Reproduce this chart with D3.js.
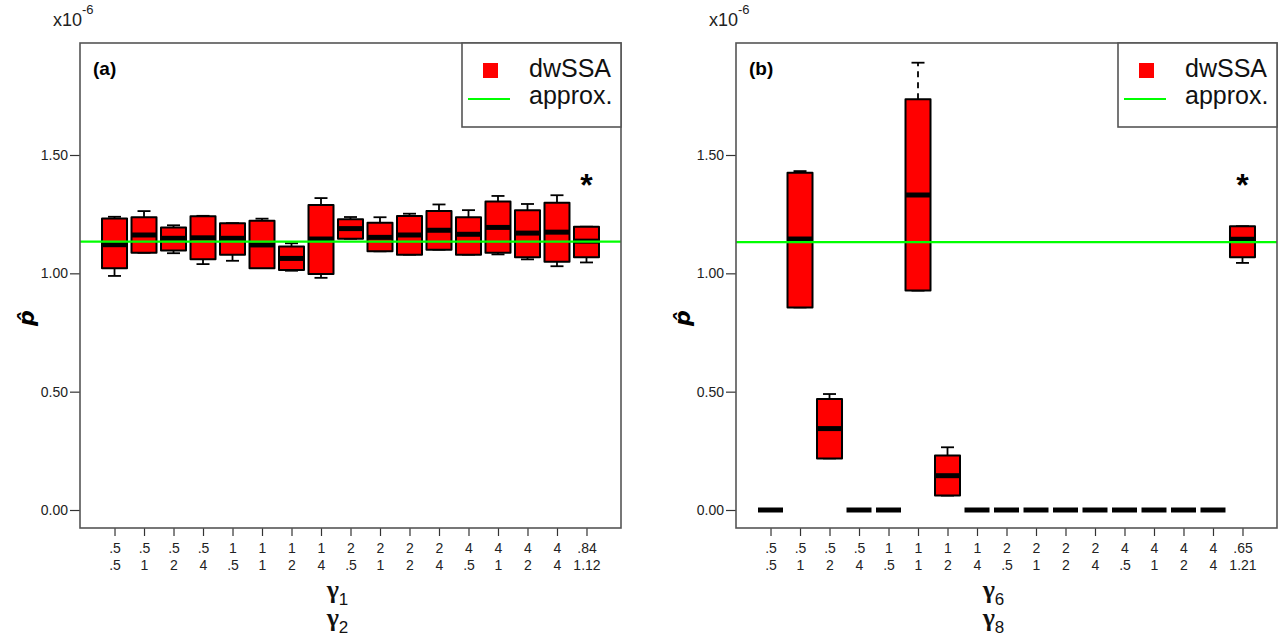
<!DOCTYPE html>
<html lang="en">
<head>
    <meta charset="UTF-8">
    <script src="https://d3js.org/d3.v7.min.js"></script>
    <style>
        body { margin: 0; background: #fff; font-family: "Liberation Sans", Arial, sans-serif; }
        .tick text { font-size: 14px; fill: #222; font-family: "Liberation Sans", Arial, sans-serif; }
        .tick line { stroke: #333; stroke-width: 1.2px; }
        .frame { fill: none; stroke: #555; stroke-width: 1.6px; }
        .box { fill: #ff0000; stroke: #000; stroke-width: 2px; stroke-linejoin: round; }
        .whisk { stroke: #000; stroke-width: 1.8px; }
        .median { stroke: #000; stroke-width: 5px; }
    </style>
</head>
<body>
<div id="chart"></div>
<script>
// tick labels (two rows) for each panel
const gamma1 = [".5", ".5", ".5", ".5", "1", "1", "1", "1", "2", "2", "2", "2", "4", "4", "4", "4", ".84"];
const gamma2 = [".5", "1", "2", "4", ".5", "1", "2", "4", ".5", "1", "2", "4", ".5", "1", "2", "4", "1.12"];
const gamma6 = [".5", ".5", ".5", ".5", "1", "1", "1", "1", "2", "2", "2", "2", "4", "4", "4", "4", ".65"];
const gamma8 = [".5", "1", "2", "4", ".5", "1", "2", "4", ".5", "1", "2", "4", ".5", "1", "2", "4", "1.21"];

// boxes: [low whisker, q1, median, q3, high whisker]  (x10^-6)
const boxesA = [
    [0.989, 1.021, 1.121, 1.232, 1.239],
    [1.087, 1.087, 1.162, 1.237, 1.263],
    [1.085, 1.096, 1.148, 1.194, 1.203],
    [1.039, 1.059, 1.150, 1.241, 1.243],
    [1.053, 1.079, 1.148, 1.212, 1.212],
    [1.022, 1.022, 1.120, 1.222, 1.231],
    [1.011, 1.014, 1.063, 1.113, 1.127],
    [0.981, 0.997, 1.145, 1.289, 1.318],
    [1.146, 1.146, 1.189, 1.229, 1.238],
    [1.093, 1.093, 1.152, 1.214, 1.237],
    [1.079, 1.079, 1.162, 1.242, 1.252],
    [1.100, 1.100, 1.182, 1.263, 1.291],
    [1.079, 1.079, 1.165, 1.237, 1.267],
    [1.080, 1.087, 1.194, 1.304, 1.327],
    [1.059, 1.068, 1.170, 1.267, 1.293],
    [1.030, 1.049, 1.174, 1.298, 1.330],
    [1.046, 1.068, 1.136, 1.197, 1.197]
];
const boxesB = [
    [0, 0, 0, 0, 0],
    [0.856, 0.856, 1.145, 1.425, 1.432],
    [0.218, 0.218, 0.344, 0.469, 0.490],
    [0, 0, 0, 0, 0],
    [0, 0, 0, 0, 0],
    [0.927, 0.927, 1.331, 1.736, 1.890],
    [0.061, 0.061, 0.145, 0.230, 0.265],
    [0, 0, 0, 0, 0],
    [0, 0, 0, 0, 0],
    [0, 0, 0, 0, 0],
    [0, 0, 0, 0, 0],
    [0, 0, 0, 0, 0],
    [0, 0, 0, 0, 0],
    [0, 0, 0, 0, 0],
    [0, 0, 0, 0, 0],
    [0, 0, 0, 0, 0],
    [1.044, 1.068, 1.144, 1.199, 1.199]
];
const dashedUpperB = [5];   // box whose upper whisker is dashed
const approxA = 1.134;
const approxB = 1.132;
const yTicks = [0, 0.5, 1.0, 1.5];
const legendItems = ["dwSSA", "approx."];

const W = 1281, H = 640;
const frameTop = 43, frameBottom = 528, frameW = 541;

const svg = d3.select("#chart").append("svg")
    .attr("width", W).attr("height", H);

const y = d3.scaleLinear().domain([0, 1.5]).range([510, 155]);

function drawPanel(x0, row1, row2, boxes, approx, tag, sub1, sub2, dashed) {
    const g = svg.append("g");
    const x = d3.scalePoint()
        .domain(d3.range(boxes.length))
        .range([x0, x0 + frameW])
        .padding(1.17);
    const bw = 25, cap = 13;

    // y axis
    g.append("g")
        .attr("transform", `translate(${x0},0)`)
        .call(d3.axisLeft(y).tickValues(yTicks).tickFormat(d3.format(".2f")).tickSize(10).tickPadding(2))
        .call(a => a.select(".domain").remove());

    // x axis with two-row labels
    g.append("g")
        .attr("transform", `translate(0,${frameBottom})`)
        .call(d3.axisBottom(x).tickSize(8).tickFormat(""))
        .call(a => a.select(".domain").remove())
        .call(a => a.selectAll(".tick").append("text")
            .attr("text-anchor", "middle")
            .attr("fill", "#222")
            .each(function(i) {
                const t = d3.select(this);
                t.append("tspan").attr("x", 0).attr("y", 25).text(row1[i]);
                t.append("tspan").attr("x", 0).attr("y", 42).text(row2[i]);
            }));

    // boxes
    const b = g.selectAll(".bx").data(boxes).enter().append("g").attr("class", "bx")
        .attr("transform", (d, i) => `translate(${x(i)},0)`);
    b.append("line").attr("class", "whisk")
        .attr("x1", 0).attr("x2", 0)
        .attr("y1", d => y(d[3])).attr("y2", d => y(d[4]))
        .attr("stroke-dasharray", (d, i) => dashed.includes(i) ? "6,5" : null);
    b.append("line").attr("class", "whisk")
        .attr("x1", 0).attr("x2", 0)
        .attr("y1", d => y(d[1])).attr("y2", d => y(d[0]));
    b.append("line").attr("class", "whisk")
        .attr("x1", -cap / 2).attr("x2", cap / 2)
        .attr("y1", d => y(d[4])).attr("y2", d => y(d[4]));
    b.append("line").attr("class", "whisk")
        .attr("x1", -cap / 2).attr("x2", cap / 2)
        .attr("y1", d => y(d[0])).attr("y2", d => y(d[0]));
    b.append("rect").attr("class", "box")
        .attr("x", -bw / 2).attr("width", bw)
        .attr("y", d => y(d[3]))
        .attr("height", d => y(d[1]) - y(d[3]));
    b.append("line").attr("class", "median")
        .attr("x1", -bw / 2).attr("x2", bw / 2)
        .attr("y1", d => y(d[2])).attr("y2", d => y(d[2]));

    // approximation line
    g.append("line")
        .attr("x1", x0).attr("x2", x0 + frameW)
        .attr("y1", y(approx)).attr("y2", y(approx))
        .attr("stroke", "#00ff00").attr("stroke-width", 2.2);

    // asterisk over last box
    const last = boxes.length - 1;
    g.append("text")
        .attr("x", x(last)).attr("y", 196)
        .attr("text-anchor", "middle")
        .attr("font-size", 32).attr("font-weight", "bold")
        .text("*");

    // frame
    g.append("rect").attr("class", "frame")
        .attr("x", x0).attr("y", frameTop)
        .attr("width", frameW).attr("height", frameBottom - frameTop);

    // legend
    const lx = x0 + frameW - 159;
    const leg = g.append("g").attr("transform", `translate(${lx},${frameTop})`);
    leg.append("rect").attr("width", 159).attr("height", 84)
        .attr("fill", "#fff").attr("stroke", "#555").attr("stroke-width", 1.6);
    leg.append("rect").attr("x", 21).attr("y", 20).attr("width", 15).attr("height", 15)
        .attr("fill", "#ff0000");
    leg.append("line").attr("x1", 6).attr("x2", 48).attr("y1", 56).attr("y2", 56)
        .attr("stroke", "#00ff00").attr("stroke-width", 2.2);
    leg.selectAll(".lt").data(legendItems).enter().append("text")
        .attr("x", 67).attr("y", (d, i) => 34 + i * 27)
        .attr("font-size", 25).attr("fill", "#111")
        .text(d => d);

    // panel tag
    g.append("text").attr("x", x0 + 13).attr("y", 75)
        .attr("font-size", 19).attr("font-weight", "bold").text(tag);

    // x10^-6
    const e = g.append("text").attr("x", x0 - 27).attr("y", 26)
        .attr("font-size", 18).attr("fill", "#222");
    e.append("tspan").text("x10");
    e.append("tspan").attr("dy", -12).attr("font-size", 13).text("-6");

    // y label p-hat
    g.append("text")
        .attr("transform", `translate(${x0 - 46},318) rotate(-90)`)
        .attr("text-anchor", "middle")
        .attr("font-family", "DejaVu Sans")
        .attr("font-size", 22).attr("font-weight", "bold").attr("font-style", "italic")
        .text("p\u0302");

    // x label gammas
    const cx = x0 + frameW / 2 - 13;
    [[sub1, 598], [sub2, 626]].forEach(([s, yy]) => {
        const t = g.append("text").attr("x", cx).attr("y", yy)
            .attr("text-anchor", "middle")
            .attr("font-family", "Liberation Serif")
            .attr("font-weight", "bold")
            .attr("font-size", 26).attr("fill", "#111");
        t.append("tspan").text("\u03b3");
        t.append("tspan").attr("font-family", "Liberation Sans").attr("font-weight", "normal")
            .attr("font-size", 17).attr("dy", 7).text(s);
    });
}

drawPanel(80, gamma1, gamma2, boxesA, approxA, "(a)", "1", "2", []);
drawPanel(736, gamma6, gamma8, boxesB, approxB, "(b)", "6", "8", dashedUpperB);
</script>
</body>
</html>
